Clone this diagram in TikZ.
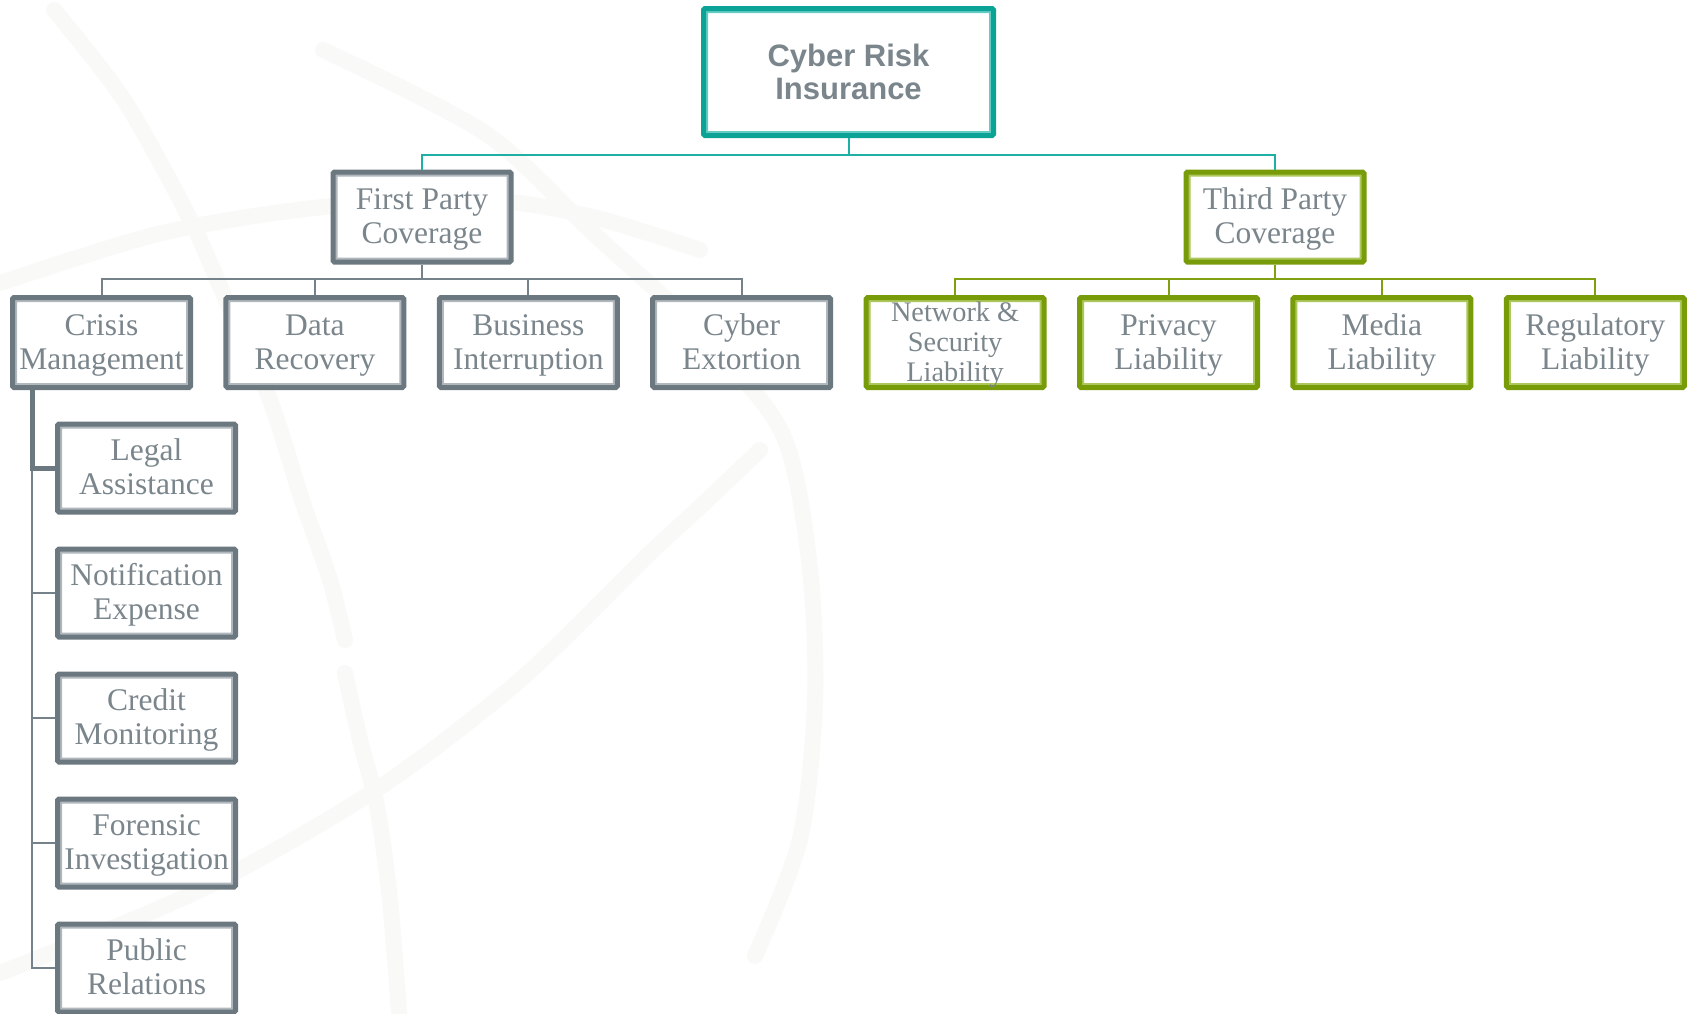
\documentclass[tikz,border=0pt]{standalone}
\usepackage{fontspec}
\setmainfont{Liberation Serif}
\newfontfamily\headsans{Liberation Sans}

\definecolor{txt}{RGB}{122,133,140}
\definecolor{grayD}{RGB}{108,120,128}
\definecolor{grayL}{RGB}{176,184,189}
\definecolor{grayLn}{RGB}{118,130,138}
\definecolor{tealD}{RGB}{10,163,150}
\definecolor{tealL}{RGB}{100,204,195}
\definecolor{tealLn}{RGB}{30,176,165}
\definecolor{greenD}{RGB}{120,155,10}
\definecolor{greenL}{RGB}{172,200,92}
\definecolor{greenLn}{RGB}{128,160,18}
\definecolor{globe}{RGB}{249,249,247}

% label lines on struts; the taller first strut drops the text a little below centre
\newcommand\topstrut{\rule[-0.3\baselineskip]{0pt}{\dimexpr\baselineskip+6.3pt\relax}}
\newcommand\twol[2]{\topstrut#1\\\strut#2}

\tikzset{
  x=1pt, y=-1pt,
  box/.style 2 args={draw=#1, line width=5pt, rounded corners=1.5pt, fill=white,
    inner sep=0pt, align=center, text=txt,
    path picture={\draw[#2, line width=9pt]
      (path picture bounding box.south west) rectangle (path picture bounding box.north east);}},
  leaf/.style={minimum width=178pt, minimum height=90pt,
    font=\fontsize{31.5}{34}\selectfont},
  graybox/.style={box={grayD}{grayL}, leaf},
  greenbox/.style={box={greenD}{greenL}, leaf},
  rootbox/.style={box={tealD}{tealL}, minimum width=290pt, minimum height=127pt,
    font=\headsans\bfseries\fontsize{31}{33.5}\selectfont},
  tealwire/.style={draw=tealLn, line width=2pt},
  graywire/.style={draw=grayLn, line width=2pt},
  greenwire/.style={draw=greenLn, line width=2pt},
  globeband/.style={draw=globe, line width=16pt, line cap=round, line join=round},
}

\begin{document}
\begin{tikzpicture}
\useasboundingbox (0,0) rectangle (1691,1013);
\fill[white] (0,0) rectangle (1691,1013);

% faint globe watermark behind the chart
\draw[globeband] plot[smooth] coordinates {(54,10) (124,100) (189,217) (226,300) (270,400) (302,500) (330,580) (345,640)};
\draw[globeband] plot[smooth] coordinates {(0,283) (162,233) (323,207) (485,200) (593,217) (700,250)};
\draw[globeband] plot[smooth] coordinates {(323,50) (485,133) (593,233) (701,333) (782,433) (809,560) (815,700) (800,839) (755,956)};
\draw[globeband] plot[smooth] coordinates {(760,450) (701,506) (647,556) (520,680) (377,789) (200,890) (0,973)};
\draw[globeband] plot[smooth] coordinates {(345,673) (360,740) (377,806) (390,900) (399,1013)};

% boxes
\node[rootbox] (root) at (848.5,72) {Cyber Risk\\Insurance};

\node[graybox]  (first) at (422,217)  {\twol{First Party}{Coverage}};
\node[greenbox] (third) at (1275,217) {\twol{Third Party}{Coverage}};

\node[graybox] (crisis)    at (101.5,342.5)  {\twol{Crisis}{Management}};
\node[graybox] (data)      at (314.9,342.5)  {\twol{Data}{Recovery}};
\node[graybox] (business)  at (528.3,342.5)  {\twol{Business}{Interruption}};
\node[graybox] (extortion) at (741.7,342.5)  {\twol{Cyber}{Extortion}};

% three lines overflow the box slightly; the negative inner sep keeps the box size fixed
\node[greenbox, inner ysep=-6pt, font=\fontsize{28.3}{30}\selectfont] (network) at (955.1,342.5)
  {\topstrut Network \&\\\strut Security\\\strut Liability};
\node[greenbox] (privacy)    at (1168.5,342.5) {\twol{Privacy}{Liability}};
\node[greenbox] (media)      at (1381.9,342.5) {\twol{Media}{Liability}};
\node[greenbox] (regulatory) at (1595.3,342.5) {\twol{Regulatory}{Liability}};

\node[graybox, minimum height=88pt] (legal)    at (146.5,468) {\twol{Legal}{Assistance}};
\node[graybox, minimum height=88pt] (notify)   at (146.5,593) {\twol{Notification}{Expense}};
\node[graybox, minimum height=88pt] (credit)   at (146.5,718) {\twol{Credit}{Monitoring}};
\node[graybox, minimum height=88pt] (forensic) at (146.5,843) {\twol{Forensic}{Investigation}};
\node[graybox, minimum height=88pt] (public)   at (146.5,968) {\twol{Public}{Relations}};

% connector rails
\coordinate (bus1) at (0,155);
\coordinate (bus2) at (0,279);
\coordinate (spine) at (32,0);

\draw[tealwire] (root.south) -- (root.south |- bus1);
\draw[tealwire] (root.south |- bus1) -| (first.north);
\draw[tealwire] (root.south |- bus1) -| (third.north);

\draw[graywire] (first.south) -- (first.south |- bus2);
\foreach \c in {crisis,data,business,extortion}
  \draw[graywire] (first.south |- bus2) -| (\c.north);

\draw[greenwire] (third.south) -- (third.south |- bus2);
\foreach \c in {network,privacy,media,regulatory}
  \draw[greenwire] (third.south |- bus2) -| (\c.north);

\draw[graywire] (legal.west -| spine) |- (public.west);
\foreach \c in {notify,credit,forensic}
  \draw[graywire] (\c.west -| spine) -- (\c.west);
\draw[draw=grayD, line width=5pt] (crisis.south -| spine) |- (legal.west);
\end{tikzpicture}
\end{document}
